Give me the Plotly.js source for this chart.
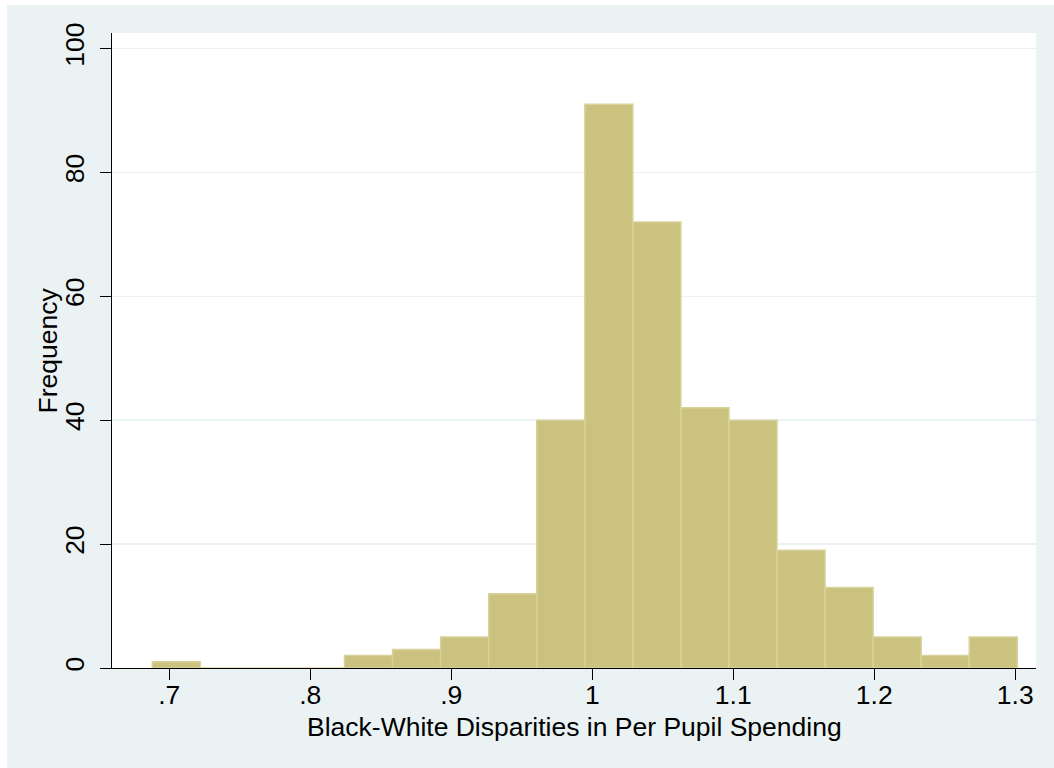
<!DOCTYPE html>
<html>
<head>
<meta charset="utf-8">
<script src="https://cdn.plot.ly/plotly-3.0.1.min.js"></script>
<style>
  html, body { margin: 0; padding: 0; background: #ffffff; }
  #chart { position: absolute; left: 7px; top: 5px; width: 1047px; height: 763px; }
</style>
</head>
<body>
<div id="chart"></div>
<script>
// Histogram bins
const binStart = 0.688;
const binWidth = 0.03408;
const counts = [1, 0, 0, 0, 2, 3, 5, 12, 40, 91, 72, 42, 40, 19, 13, 5, 2, 5];

const xTickVals = [0.7, 0.8, 0.9, 1.0, 1.1, 1.2, 1.3];
const xTickText = [".7", ".8", ".9", "1", "1.1", "1.2", "1.3"];
const yTickVals = [0, 20, 40, 60, 80, 100];
const yTickText = ["0", "20", "40", "60", "80", "100"];

const xTitle = "Black-White Disparities in Per Pupil Spending";
const yTitle = "Frequency";

const centers = counts.map((c, i) => binStart + binWidth * (i + 0.5));

const FONT = "Liberation Sans, Arial, Helvetica, sans-serif";
const FS = 26.5;

const trace = {
  type: "bar",
  x: centers,
  y: counts,
  width: counts.map(() => binWidth),
  marker: {
    color: "rgb(202,194,126)",
    line: { color: "rgb(216,210,156)", width: 1.5 }
  },
  hoverinfo: "x+y"
};

const layout = {
  width: 1047,
  height: 763,
  margin: { l: 105, r: 18, t: 28, b: 100 },
  paper_bgcolor: "rgb(234,242,243)",
  plot_bgcolor: "#ffffff",
  showlegend: false,
  bargap: 0,
  font: { family: FONT, size: FS, color: "#000000" },
  xaxis: {
    range: [0.6594, 1.3147],
    tickvals: xTickVals,
    ticktext: xTickText,
    ticks: "outside",
    ticklen: 11,
    tickwidth: 1,
    tickcolor: "#000000",
    ticklabelstandoff: -8,
    showline: true,
    linecolor: "#000000",
    linewidth: 1,
    showgrid: false,
    zeroline: false,
    tickfont: { family: FONT, size: FS, color: "#000000" }
  },
  yaxis: {
    range: [0, 102.5],
    tickvals: yTickVals,
    ticktext: yTickText,
    tickangle: -90,
    ticks: "outside",
    ticklen: 11,
    tickwidth: 1,
    tickcolor: "#000000",
    ticklabelstandoff: 5,
    showline: true,
    linecolor: "#000000",
    linewidth: 1,
    showgrid: true,
    gridcolor: "rgb(234,242,243)",
    gridwidth: 1.5,
    zeroline: false,
    tickfont: { family: FONT, size: FS, color: "#000000" }
  },
  annotations: [{
    text: yTitle,
    xref: "paper", yref: "paper",
    x: 0, y: 0.5,
    xanchor: "center", yanchor: "middle",
    xshift: -65,
    textangle: -90,
    showarrow: false,
    font: { family: FONT, size: FS, color: "#000000" }
  }, {
    text: xTitle,
    xref: "paper", yref: "paper",
    x: 0.5, y: 0,
    xanchor: "center", yanchor: "middle",
    yshift: -59,
    showarrow: false,
    font: { family: FONT, size: FS, color: "#000000" }
  }]
};

Plotly.newPlot("chart", [trace], layout, { displayModeBar: false, staticPlot: true });
</script>
</body>
</html>
